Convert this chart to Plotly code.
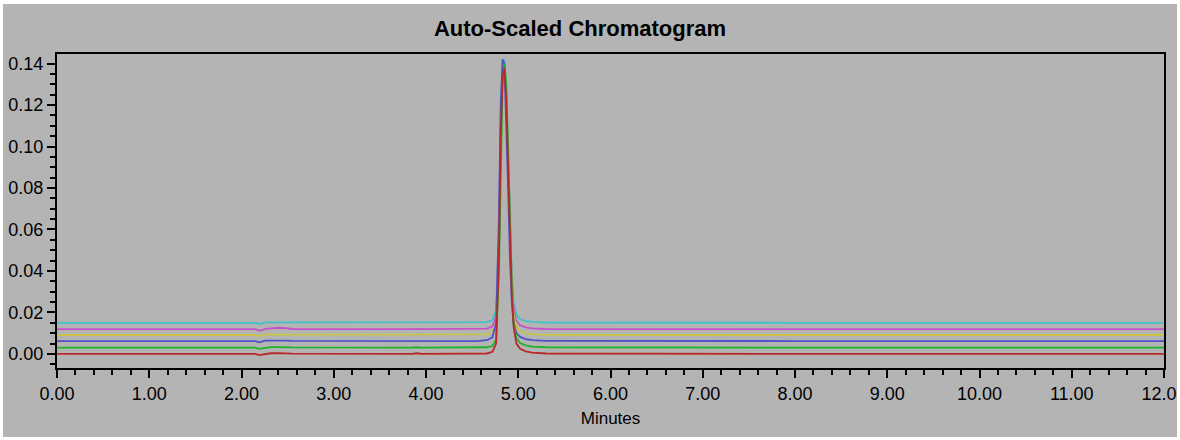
import plotly.graph_objects as go

# ---------------- data ----------------
minutes = [0.00, 2.15, 2.19, 2.22, 2.26, 2.32, 2.40, 2.48, 2.55, 3.85, 3.90, 3.95,
           4.55, 4.66, 4.72, 4.76, 4.79, 4.81, 4.83, 4.85, 4.87, 4.89, 4.91, 4.93,
           4.95, 4.98, 5.02, 5.08, 5.15, 5.30, 8.00, 12.00]

cyan_au = [0.0150, 0.0150, 0.0144, 0.0147, 0.0152, 0.0152, 0.0152, 0.0151, 0.0150, 0.0150, 0.0151, 0.0150,
           0.0150, 0.0153, 0.0163, 0.0210, 0.0560, 0.1120, 0.1380, 0.1420, 0.1270, 0.0960, 0.0630, 0.0380,
           0.0250, 0.0190, 0.0168, 0.0158, 0.0154, 0.0151, 0.0150, 0.0150]
magenta_au = [0.0119, 0.0119, 0.0112, 0.0114, 0.0121, 0.0124, 0.0126, 0.0124, 0.0120, 0.0119, 0.0121, 0.0119,
              0.0119, 0.0122, 0.0133, 0.0180, 0.0540, 0.1100, 0.1360, 0.1405, 0.1250, 0.0940, 0.0600, 0.0350,
              0.0220, 0.0160, 0.0138, 0.0128, 0.0123, 0.0120, 0.0119, 0.0119]
yellow_au = [0.0091, 0.0091, 0.0086, 0.0088, 0.0093, 0.0093, 0.0093, 0.0092, 0.0091, 0.0091, 0.0093, 0.0091,
             0.0091, 0.0094, 0.0105, 0.0150, 0.0520, 0.1100, 0.1370, 0.1410, 0.1250, 0.0930, 0.0580, 0.0320,
             0.0190, 0.0130, 0.0110, 0.0100, 0.0095, 0.0092, 0.0091, 0.0091]
blue_au = [0.0062, 0.0062, 0.0056, 0.0058, 0.0064, 0.0064, 0.0065, 0.0064, 0.0063, 0.0062, 0.0064, 0.0062,
           0.0062, 0.0066, 0.0080, 0.0150, 0.0650, 0.1200, 0.1420, 0.1400, 0.1150, 0.0800, 0.0460, 0.0250,
           0.0150, 0.0100, 0.0082, 0.0071, 0.0066, 0.0063, 0.0062, 0.0062]
green_au = [0.0030, 0.0030, 0.0024, 0.0026, 0.0032, 0.0033, 0.0033, 0.0032, 0.0031, 0.0030, 0.0032, 0.0030,
            0.0030, 0.0032, 0.0038, 0.0070, 0.0380, 0.0950, 0.1300, 0.1400, 0.1300, 0.0990, 0.0630, 0.0330,
            0.0160, 0.0075, 0.0052, 0.0041, 0.0035, 0.0032, 0.0030, 0.0030]
red_au = [0.0000, 0.0000, -0.0006, -0.0004, 0.0002, 0.0003, 0.0004, 0.0004, 0.0001, 0.0000, 0.0003, 0.0000,
          0.0000, 0.0002, 0.0010, 0.0050, 0.0450, 0.1050, 0.1330, 0.1380, 0.1220, 0.0900, 0.0550, 0.0280,
          0.0130, 0.0050, 0.0025, 0.0012, 0.0006, 0.0002, 0.0000, 0.0000]

series = [
    ("Injection 6", cyan_au, "rgb(60,196,200)"),
    ("Injection 5", magenta_au, "rgb(200,80,200)"),
    ("Injection 4", yellow_au, "rgb(200,196,70)"),
    ("Injection 3", blue_au, "rgb(80,80,200)"),
    ("Injection 2", green_au, "rgb(30,180,40)"),
    ("Injection 1", red_au, "rgb(185,40,40)"),
]

y_ticks = [0.00, 0.02, 0.04, 0.06, 0.08, 0.10, 0.12, 0.14]
x_ticks = list(range(0, 13))

# ---------------- figure ----------------
W, H = 1180, 440
L, R, T, B = 57, 16, 54, 72
GRAY = "rgb(180,180,180)"
FONT = "Liberation Sans, Arial, sans-serif"

fig = go.Figure()
for name, ys, col in series:
    fig.add_trace(go.Scatter(x=minutes, y=ys, mode="lines", name=name,
                             line=dict(color=col, width=1.8), showlegend=False))

pw = W - L - R
ph = H - T - B
def px_x(p):
    return (p - L) / pw
def px_y(p):
    return (H - B - p) / ph

fig.add_shape(type="rect", xref="paper", yref="paper",
              x0=px_x(3), x1=px_x(1177), y0=px_y(437), y1=px_y(4),
              fillcolor=GRAY, line=dict(width=0), layer="below")
fig.add_shape(type="rect", xref="paper", yref="paper",
              x0=px_x(1177), x1=px_x(1190), y0=px_y(445), y1=px_y(-5),
              fillcolor="white", line=dict(width=0), layer="above")

fig.update_layout(
    width=W, height=H,
    margin=dict(l=L, r=R, t=T, b=B, pad=0, autoexpand=False),
    paper_bgcolor="white",
    plot_bgcolor=GRAY,
    font=dict(family=FONT, size=18, color="#000000"),
    title=dict(text="<b>Auto-Scaled Chromatogram</b>", x=580 / W, xanchor="center",
               y=1 - 28 / H, yanchor="middle", font=dict(size=22, color="#000000")),
)

fig.update_xaxes(
    range=[0, 12], tickvals=x_ticks, tickformat=".2f",
    ticks="outside", ticklen=8, tickwidth=1.5, tickcolor="black",
    minor=dict(dtick=0.2, ticks="outside", ticklen=5, tickwidth=1.5, tickcolor="black", showgrid=False),
    showline=True, linecolor="black", linewidth=2, mirror=True,
    showgrid=False, zeroline=False, automargin=False,
    title=dict(text="Minutes", font=dict(size=17), standoff=10),
    ticklabelstandoff=0, ticklabeloverflow="allow",
)
fig.update_yaxes(
    range=[-0.0068, 0.1446], tickvals=y_ticks, tickformat=".2f",
    ticks="outside", ticklen=8, tickwidth=1.5, tickcolor="black",
    minor=dict(dtick=0.005, tick0=0, ticks="outside", ticklen=5, tickwidth=1.5, tickcolor="black", showgrid=False),
    showline=True, linecolor="black", linewidth=2, mirror=True,
    showgrid=False, zeroline=False, automargin=False,
    ticklabelstandoff=0, ticklabeloverflow="allow",
)

fig.write_html("out.html")
